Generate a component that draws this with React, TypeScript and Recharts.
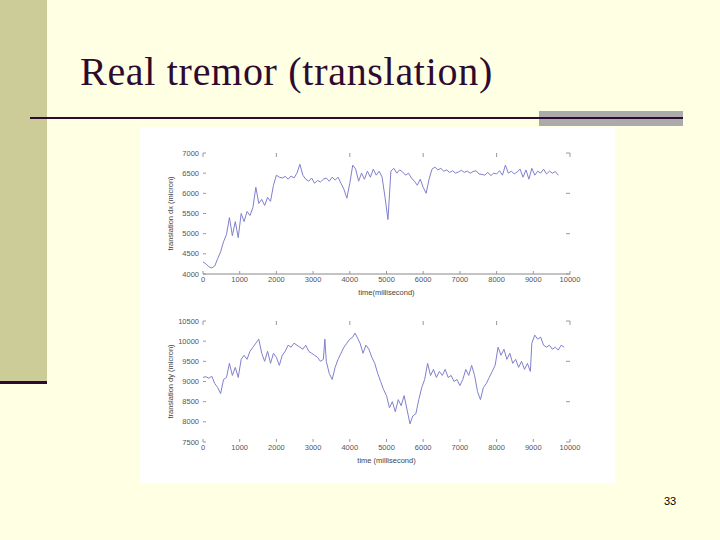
import { LineChart, Line, XAxis, YAxis } from 'recharts'

// translation dx (time in ms, micron)
const dxTimes = [
  0, 80, 160, 240, 320, 400, 480, 560, 640, 720, 800, 880, 960, 1040, 1120, 1200, 1280, 1360, 1440, 1520,
  1600, 1680, 1760, 1840, 1920, 2000, 2080, 2160, 2240, 2320, 2400, 2480, 2560, 2640, 2720, 2800, 2880, 2960,
  3040, 3120, 3200, 3280, 3360, 3440, 3520, 3600, 3680, 3760, 3840, 3920, 4000, 4080, 4160, 4240, 4320, 4400,
  4480, 4560, 4640, 4720, 4800, 4880, 4960, 5040, 5120, 5200, 5280, 5360, 5440, 5520, 5600, 5680, 5760, 5840,
  5920, 6000, 6080, 6160, 6240, 6320, 6400, 6480, 6560, 6640, 6720, 6800, 6880, 6960, 7040, 7120, 7200, 7280,
  7360, 7440, 7520, 7600, 7680, 7760, 7840, 7920, 8000, 8080, 8160, 8240, 8320, 8400, 8480, 8560, 8640, 8720,
  8800, 8880, 8960, 9040, 9120, 9200, 9280, 9360, 9440, 9520, 9600, 9680,
]
const dxValues = [
  4300, 4250, 4180, 4150, 4200, 4380, 4550, 4800, 4980, 5400, 4950, 5300, 4900, 5500, 5300, 5550, 5450, 5650, 6150, 5750,
  5850, 5700, 5900, 5800, 6200, 6450, 6400, 6380, 6420, 6350, 6430, 6380, 6500, 6720, 6450, 6350, 6300, 6380,
  6250, 6320, 6280, 6350, 6380, 6300, 6400, 6330, 6400, 6250, 6100, 5880, 6250, 6700, 6600, 6300, 6500, 6350,
  6550, 6400, 6600, 6450, 6550, 6400, 5900, 5350, 6550, 6620, 6500, 6580, 6530, 6450, 6500, 6380, 6300, 6200,
  6350, 6150, 6000, 6350, 6600, 6650, 6580, 6620, 6550, 6580, 6520, 6560, 6500, 6530, 6570, 6520, 6550, 6500,
  6540, 6560, 6480, 6470, 6450, 6520, 6440, 6500, 6480, 6560, 6450, 6700, 6500, 6550, 6480, 6530, 6600, 6400,
  6580, 6350, 6620, 6450, 6550, 6500, 6600, 6480, 6550, 6500, 6540, 6450,
]

// translation dy
const dyTimes = [
  0, 80, 160, 240, 320, 400, 480, 560, 640, 720, 800, 880, 960, 1040, 1120, 1200, 1280, 1360, 1440, 1520,
  1600, 1680, 1760, 1840, 1920, 2000, 2080, 2160, 2240, 2320, 2400, 2480, 2560, 2640, 2720, 2800, 2880, 2960,
  3040, 3120, 3200, 3280, 3320, 3360, 3440, 3520, 3600, 3680, 3760, 3840, 3920, 4000, 4080, 4140, 4200, 4280,
  4360, 4440, 4520, 4600, 4680, 4760, 4840, 4920, 5000, 5080, 5160, 5240, 5320, 5400, 5480, 5560, 5640, 5720,
  5800, 5880, 5960, 6040, 6120, 6200, 6280, 6360, 6440, 6520, 6600, 6680, 6760, 6840, 6920, 7000, 7080, 7160,
  7240, 7320, 7400, 7480, 7560, 7640, 7720, 7800, 7880, 7960, 8040, 8120, 8200, 8280, 8360, 8440, 8520, 8600,
  8680, 8760, 8840, 8920, 8960, 9040, 9120, 9200, 9280, 9360, 9440, 9520, 9600, 9680, 9760, 9840,
]
const dyValues = [
  9100, 9120, 9080, 9130, 8950, 8850, 8700, 9050, 9100, 9450, 9150, 9350, 9100, 9550, 9650, 9550, 9750, 9850, 9950, 10050,
  9700, 9500, 9750, 9450, 9700, 9600, 9400, 9650, 9750, 9900, 9850, 9950, 9900, 9850, 9800, 9900, 9750, 9700,
  9650, 9600, 9500, 9550, 10050, 9500, 9200, 9050, 9350, 9550, 9700, 9850, 9950, 10050, 10100, 10200, 10100, 9950,
  9700, 9900, 9800, 9600, 9450, 9200, 9000, 8800, 8650, 8350, 8500, 8250, 8550, 8400, 8650, 8300, 7950, 8150,
  8200, 8550, 8850, 9050, 9450, 9150, 9300, 9100, 9250, 9150, 9300, 9100, 9150, 9000, 9050, 8900, 9050, 9300,
  9150, 9400, 9150, 8750, 8550, 8850, 8950, 9100, 9250, 9400, 9850, 9650, 9800, 9550, 9700, 9450, 9550, 9350,
  9500, 9300, 9450, 9250, 9950, 10150, 10050, 10100, 9900, 9850, 9900, 9800, 9850, 9780, 9900, 9850,
]

const timeTicks = [0, 1000, 2000, 3000, 4000, 5000, 6000, 7000, 8000, 9000, 10000]
const dxTicks = [4000, 4500, 5000, 5500, 6000, 6500, 7000]
const dyTicks = [7500, 8000, 8500, 9000, 9500, 10000, 10500]

const tickFont = { fontSize: 7.5, fill: '#555', fontFamily: 'Liberation Sans, Arial, sans-serif' }
const labelFont = { fontSize: 7.5, fill: '#444', fontFamily: 'Liberation Sans, Arial, sans-serif' }
// the top / right edges only carry tick marks, no labels
const noLabel = () => <g />

interface TremorPlotProps {
  times: number[]
  values: number[]
  yDomain: [number, number]
  yTicks: number[]
  yLabel: string
  xLabel: string
  bottomLine: boolean
}

function TremorPlot({ times, values, yDomain, yTicks, yLabel, xLabel, bottomLine }: TremorPlotProps) {
  const data = times.map((t, i) => ({ t, v: values[i] }))

  return (
    <LineChart width={475} height={175} data={data} margin={{ top: 24, right: 44, bottom: 0, left: 0 }}>
      <XAxis
        dataKey="t"
        type="number"
        domain={[0, 10000]}
        ticks={timeTicks}
        allowDataOverflow
        height={29}
        tick={tickFont}
        tickSize={-3}
        tickMargin={6}
        tickLine={{ stroke: '#999' }}
        axisLine={bottomLine ? { stroke: '#888' } : false}
        label={{ value: xLabel, position: 'insideBottom', offset: 8, style: { ...labelFont, textAnchor: 'middle' } }}
      />
      <XAxis
        xAxisId="top"
        dataKey="t"
        type="number"
        orientation="top"
        domain={[0, 10000]}
        ticks={timeTicks}
        allowDataOverflow
        height={1}
        tick={noLabel}
        tickSize={-4}
        tickLine={{ stroke: '#999' }}
        axisLine={false}
      />
      <YAxis
        type="number"
        domain={yDomain}
        ticks={yTicks}
        allowDataOverflow
        width={63}
        tick={tickFont}
        tickSize={-3}
        tickMargin={7}
        tickLine={{ stroke: '#999' }}
        axisLine={false}
        label={{ value: yLabel, angle: -90, position: 'insideLeft', offset: 30, style: { ...labelFont, textAnchor: 'middle' } }}
      />
      <YAxis
        yAxisId="right"
        type="number"
        orientation="right"
        domain={yDomain}
        ticks={yTicks}
        allowDataOverflow
        width={1}
        tick={noLabel}
        tickSize={-4}
        tickLine={{ stroke: '#999' }}
        axisLine={false}
      />
      {/* invisible copy so the edge axes get a domain */}
      <Line xAxisId="top" yAxisId="right" dataKey="v" stroke="none" dot={false} isAnimationActive={false} />
      <Line
        type="linear"
        dataKey="v"
        stroke="#8080CE"
        strokeWidth={1}
        dot={false}
        isAnimationActive={false}
      />
    </LineChart>
  )
}

export default function App() {
  return (
    <div
      style={{
        position: 'absolute',
        left: 0,
        top: 0,
        width: 720,
        height: 540,
        background: '#FFFFE3',
        overflow: 'hidden',
      }}
    >
      {/* slide decoration */}
      <div style={{ position: 'absolute', left: 0, top: 0, width: 47, height: 381, background: '#CCCC99' }} />
      <div style={{ position: 'absolute', left: 0, top: 381, width: 47, height: 3, background: '#2E0A2E' }} />
      <div
        style={{
          position: 'absolute',
          left: 80,
          top: 52,
          fontFamily: 'Liberation Serif, Times New Roman, serif',
          fontSize: 40,
          lineHeight: '40px',
          letterSpacing: 0.7,
          color: '#2E0A2E',
          whiteSpace: 'nowrap',
        }}
      >
        Real tremor (translation)
      </div>
      <div style={{ position: 'absolute', left: 539, top: 111, width: 144, height: 15, background: '#ABABAB' }} />
      <div style={{ position: 'absolute', left: 30, top: 117, width: 653, height: 2, background: '#2E0A2E' }} />

      {/* pasted figure */}
      <div style={{ position: 'absolute', left: 140, top: 127, width: 475, height: 356, background: '#FFFFFF' }}>
        <div style={{ position: 'absolute', left: 0, top: 1 }}>
          <TremorPlot
            times={dxTimes}
            values={dxValues}
            yDomain={[4000, 7000]}
            yTicks={dxTicks}
            yLabel="translation dx (micron)"
            xLabel="time(millisecond)"
            bottomLine
          />
        </div>
        <div style={{ position: 'absolute', left: 0, top: 169 }}>
          <TremorPlot
            times={dyTimes}
            values={dyValues}
            yDomain={[7500, 10500]}
            yTicks={dyTicks}
            yLabel="translation dy (micron)"
            xLabel="time (millisecond)"
            bottomLine={false}
          />
        </div>
      </div>

      <div
        style={{
          position: 'absolute',
          left: 664,
          top: 495,
          fontFamily: 'Liberation Sans, Arial, sans-serif',
          fontSize: 11,
          color: '#000',
        }}
      >
        33
      </div>
    </div>
  )
}
